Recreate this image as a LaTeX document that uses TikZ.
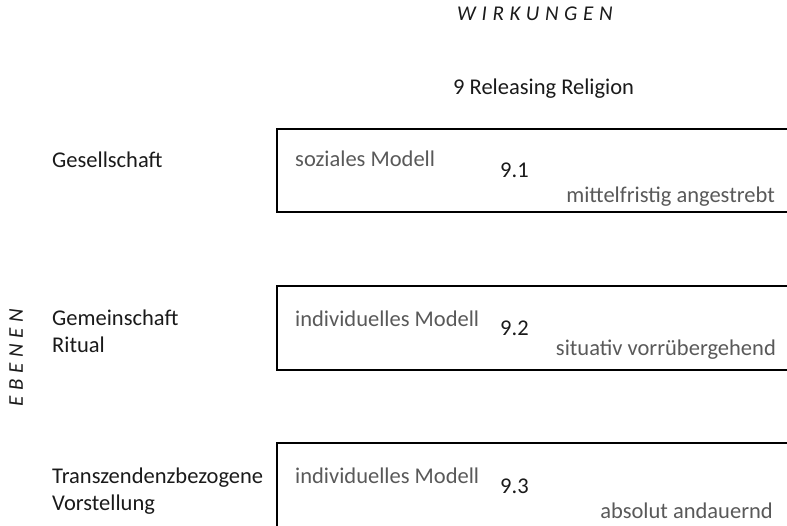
\documentclass[tikz,border=0pt]{standalone}
\usepackage{fontspec}
\setmainfont{Carlito}
\usepackage{tikz}
\usetikzlibrary{positioning}

\definecolor{txtgray}{HTML}{595959}
\definecolor{txtdark}{HTML}{1A1A1A}

\tikzset{
  lbl/.style={anchor=base west, inner sep=0pt, text=txtdark, font=\fontsize{22.5}{27}\selectfont},
  note/.style={lbl, text=txtgray},
  notr/.style={note, anchor=base east},
  head/.style={anchor=base west, inner sep=0pt, text=txtdark, font=\fontsize{21}{25}\selectfont\itshape\addfontfeatures{LetterSpace=27}},
  ebox/.style={draw=black, line width=1.8pt}
}

\begin{document}
\begin{tikzpicture}[x=1pt, y=-1pt]
\useasboundingbox (0,0) rectangle (787,525);
\clip (0,0) rectangle (787,525);

\node[head] (wirk) at (457,20) {WIRKUNGEN};
\node[head, rotate=90] (ebenen) at (23,407) {EBENEN};
\node[lbl] (title) at (453,94) {9 Releasing Religion};

% Ebenen
\node[lbl] (ges) at (52,167) {Gesellschaft};
\node[lbl] (gem) at (52,325) {Gemeinschaft};
\node[lbl] (rit) at (52,352) {Ritual};
\node[lbl] (trans) at (52,483) {Transzendenzbezogene};
\node[lbl] (vor) at (52,510) {Vorstellung};

% Wirkungen
\draw [ebox] (277,129) rectangle (800,212);
\node[note] (m1) at (295,166) {soziales Modell};
\node[lbl] (n1) at (500,177) {9.1};
\node[notr] (w1) at (775,202) {mittelfristig angestrebt};

\draw [ebox] (277,286) rectangle (800,370);
\node[note] (m2) at (295,326) {individuelles Modell};
\node[lbl] (n2) at (500,335) {9.2};
\node[notr] (w2) at (776,355) {situativ vorrübergehend};

\draw [ebox] (277,443) rectangle (800,540);
\node[note] (m3) at (295,483) {individuelles Modell};
\node[lbl] (n3) at (500,493) {9.3};
\node[notr] (w3) at (773,518) {absolut andauernd};
\end{tikzpicture}
\end{document}
